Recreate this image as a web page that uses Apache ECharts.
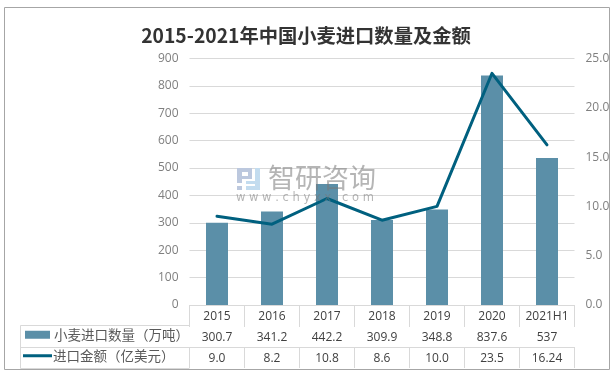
<!DOCTYPE html>
<html><head><meta charset="utf-8">
<style>html,body{margin:0;padding:0;background:#fff}#c{width:613px;height:372px}</style>
<script src="https://cdn.jsdelivr.net/npm/echarts@6/dist/echarts.min.js"></script>
</head><body><div id="c"></div>
<script>
const categories = ['2015','2016','2017','2018','2019','2020','2021H1'];
const quantity = [300.7,341.2,442.2,309.9,348.8,837.6,537];
const amount = [9.0,8.2,10.8,8.6,10.0,23.5,16.24];
const amountLabels = ['9.0','8.2','10.8','8.6','10.0','23.5','16.24'];
const quantityName = '小麦进口数量（万吨）';
const amountName = '进口金额（亿美元）';
const titleText = '2015-2021年中国小麦进口数量及金额';
const BAR='#5b8fa8', LINE='#00607f', RULE='#d9d9d9', TXT='#595959', FONT='"Noto Sans CJK SC","Open Sans",sans-serif';
const G={l:189.5,r:38.5,t:58.5,b:67};
function tableAxis(data,offset,len,margin){
  return {type:'category',data:data,position:'bottom',offset:offset,gridIndex:0,
    axisLine:{show:true,lineStyle:{color:RULE,width:1}},
    axisTick:{show:true,length:len,lineStyle:{color:RULE,width:1},alignWithLabel:false,interval:0},
    axisLabel:{interval:0,color:'#404040',fontSize:12,fontFamily:'"Open Sans",sans-serif',margin:margin},
    splitLine:{show:false}};
}
const chart=echarts.init(document.getElementById('c'),null,{renderer:'canvas'});
chart.setOption({
  animation:false,backgroundColor:'#fff',
  title:{text:titleText,left:301,top:21,textAlign:'center',textStyle:{fontSize:19.3,fontWeight:'bold',color:'#333',fontFamily:FONT}},
  grid:{left:G.l,right:G.r,top:G.t,bottom:G.b,containLabel:false},
  legend:[
    {data:[{name:quantityName,icon:'rect'}],left:25,top:328,itemWidth:25,itemHeight:8,itemGap:4,padding:0,textStyle:{fontSize:13.5,color:TXT,fontFamily:FONT,padding:[0,0,0,-1]}},
    {data:[{name:amountName,icon:'rect'}],left:23,top:349,itemWidth:29,itemHeight:3,itemGap:2,padding:0,textStyle:{fontSize:13.5,color:TXT,fontFamily:FONT,padding:[0,0,0,-4]}}
  ],
  xAxis:[
    tableAxis(categories,0,20,6),
    tableAxis(quantity.map(String),20,22,7),
    tableAxis(amountLabels,42,21,6)
  ],
  yAxis:[
    {type:'value',min:0,max:900,interval:100,axisLine:{show:false},axisTick:{show:false},
     axisLabel:{color:'#7f7f7f',fontSize:12,margin:11,fontFamily:'"Open Sans",sans-serif'},
     splitLine:{show:true,lineStyle:{color:RULE,width:1}}},
    {type:'value',min:0,max:25,interval:5,position:'right',axisLine:{show:false},axisTick:{show:false},
     axisLabel:{color:'#7f7f7f',fontSize:12,margin:11,formatter:v=>v.toFixed(1),fontFamily:'"Open Sans",sans-serif'},
     splitLine:{show:false}}
  ],
  series:[
    {name:quantityName,type:'bar',data:quantity,barWidth:22,itemStyle:{color:BAR},z:2},
    {name:amountName,type:'line',yAxisIndex:1,data:amount,symbol:'none',smooth:false,lineStyle:{color:LINE,width:3,cap:'round',join:'round'},itemStyle:{color:LINE},z:4}
  ],
  graphic:[
    {type:'rect',shape:{x:4.5,y:7.5,width:605,height:362},style:{fill:'none',stroke:'#a6a6a6',lineWidth:1},silent:true,z:0},
    {type:'line',shape:{x1:20.5,y1:325.5,x2:189.5,y2:325.5},style:{stroke:RULE,lineWidth:1},z:1},
    {type:'line',shape:{x1:20.5,y1:347.5,x2:189.5,y2:347.5},style:{stroke:RULE,lineWidth:1},z:1},
    {type:'line',shape:{x1:20.5,y1:368.5,x2:189.5,y2:368.5},style:{stroke:RULE,lineWidth:1},z:1},
    {type:'line',shape:{x1:20.5,y1:325.5,x2:20.5,y2:368.5},style:{stroke:RULE,lineWidth:1},z:1},
    {type:'rect',shape:{x:237,y:168,width:15,height:4},style:{fill:'#bcc8de'},z:10},
    {type:'rect',shape:{x:237,y:168,width:5,height:15},style:{fill:'#bcc8de'},z:10},
    {type:'rect',shape:{x:248,y:168,width:4,height:11},style:{fill:'#bcc8de'},z:10},
    {type:'rect',shape:{x:242,y:176,width:10,height:3},style:{fill:'#bcc8de'},z:10},
    {type:'rect',shape:{x:237,y:186,width:5,height:4},style:{fill:'#bcc8de'},z:10},
    {type:'rect',shape:{x:255,y:168,width:5,height:22},style:{fill:'#c3dcef'},z:10},
    {type:'rect',shape:{x:246,y:186,width:14,height:4},style:{fill:'#c3dcef'},z:10},
    {type:'rect',shape:{x:246,y:181,width:10,height:3},style:{fill:'#c3dcef'},z:10},
    {type:'text',style:{x:268,y:164,text:'智研咨询',font:'27px "Noto Sans CJK SC"',fill:'rgba(120,120,120,0.55)'},z:10},
    {type:'text',style:{x:236,y:192,text:'w w w . c h y x x . c o m',font:'11.5px "DejaVu Sans"',fill:'rgba(120,120,120,0.55)'},z:10}
  ]
});
</script></body></html>
